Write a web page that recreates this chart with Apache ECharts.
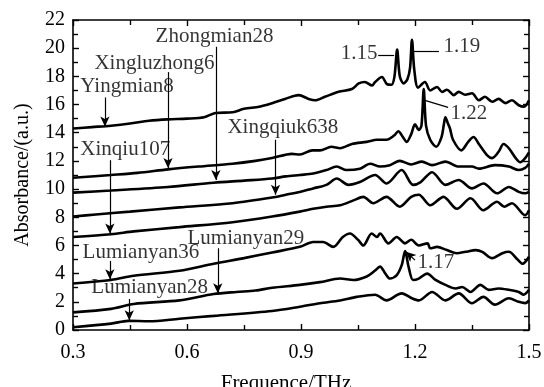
<!DOCTYPE html>
<html><head><meta charset="utf-8">
<script src="https://cdn.jsdelivr.net/npm/echarts@6/dist/echarts.min.js"></script>
<style>html,body{margin:0;padding:0;background:#fff}#c{width:544px;height:387px}</style>
</head><body><div id="c"></div>
<script>
var xTicks = [0.3, 0.6, 0.9, 1.2, 1.5];
var yTicks = [0, 2, 4, 6, 8, 10, 12, 14, 16, 18, 20, 22];

var yingmian8 = [[0.30,14.3],[0.35,14.4],[0.40,14.5],[0.45,14.65],[0.50,14.85],[0.55,14.95],[0.60,15.0],[0.645,15.1],[0.675,15.4],[0.72,15.45],[0.75,15.7],[0.79,15.85],[0.824,16.1],[0.858,16.4],[0.894,16.67],[0.92,16.4],[0.937,16.3],[0.963,16.55],[0.999,16.9],[1.034,17.1],[1.052,17.5],[1.068,17.6],[1.087,17.35],[1.095,17.6],[1.113,17.95],[1.126,17.45],[1.138,17.4],[1.146,18.0],[1.153,19.9],[1.16,18.0],[1.17,17.5],[1.18,17.8],[1.187,18.6],[1.192,20.6],[1.198,18.5],[1.208,17.2],[1.226,17.6],[1.24,17.0],[1.258,17.25],[1.271,16.9],[1.284,17.05],[1.302,16.67],[1.315,16.9],[1.332,16.7],[1.35,16.8],[1.368,16.3],[1.384,16.55],[1.403,16.2],[1.42,16.4],[1.438,16.1],[1.455,16.3],[1.473,15.95],[1.487,15.85],[1.5,16.3]];
var xingluzhong6 = [[0.30,10.8],[0.40,11.0],[0.47,11.15],[0.55,11.4],[0.63,11.6],[0.72,11.8],[0.78,12.0],[0.824,12.2],[0.876,12.5],[0.897,12.45],[0.93,12.75],[0.95,12.75],[0.98,13.0],[1.003,12.9],[1.034,13.2],[1.073,13.35],[1.10,13.5],[1.125,13.5],[1.145,13.8],[1.156,14.1],[1.168,13.7],[1.178,13.35],[1.19,13.9],[1.20,14.6],[1.21,14.2],[1.217,14.5],[1.223,17.1],[1.229,14.5],[1.24,13.5],[1.256,13.0],[1.27,13.7],[1.276,14.6],[1.28,15.1],[1.286,14.7],[1.292,14.3],[1.30,13.5],[1.322,12.75],[1.34,13.35],[1.354,13.7],[1.368,13.2],[1.39,12.4],[1.403,12.2],[1.42,12.65],[1.433,13.2],[1.447,12.9],[1.465,12.2],[1.477,11.9],[1.49,12.2],[1.5,12.6]];
var zhongmian28 = [[0.30,9.75],[0.40,9.9],[0.55,10.15],[0.67,10.45],[0.75,10.6],[0.824,10.75],[0.86,10.9],[0.897,11.0],[0.932,11.1],[0.967,11.35],[0.994,11.6],[1.02,11.35],[1.055,11.45],[1.082,11.8],[1.108,11.6],[1.134,11.7],[1.16,12.0],[1.19,11.75],[1.218,11.95],[1.245,11.7],[1.28,11.95],[1.315,11.6],[1.35,11.6],[1.368,11.45],[1.41,11.7],[1.447,11.6],[1.473,11.35],[1.49,11.5],[1.5,11.8]];
var xingqiuk638 = [[0.30,8.05],[0.36,8.2],[0.45,8.4],[0.58,8.7],[0.72,9.0],[0.824,9.4],[0.86,9.6],[0.897,9.8],[0.932,10.05],[0.967,10.3],[0.994,10.75],[1.025,10.3],[1.055,10.5],[1.095,11.0],[1.125,10.4],[1.165,11.35],[1.195,10.3],[1.215,10.5],[1.245,11.2],[1.28,10.3],[1.315,10.65],[1.35,10.05],[1.38,10.4],[1.416,9.7],[1.447,10.15],[1.473,9.8],[1.49,9.7],[1.5,9.8]];
var xinqiu107 = [[0.30,6.6],[0.40,6.8],[0.46,7.0],[0.58,7.3],[0.72,7.65],[0.824,8.05],[0.897,8.4],[0.932,8.6],[0.967,8.75],[1.003,8.85],[1.038,9.2],[1.064,9.45],[1.09,9.0],[1.125,9.45],[1.16,8.75],[1.19,9.45],[1.21,9.6],[1.24,8.85],[1.275,9.45],[1.31,8.6],[1.346,9.35],[1.38,8.5],[1.416,9.1],[1.435,8.75],[1.455,9.0],[1.49,8.15],[1.5,8.5]];
var lumianyan36 = [[0.30,3.3],[0.40,3.55],[0.46,3.85],[0.58,4.2],[0.67,4.7],[0.75,5.1],[0.824,5.5],[0.897,5.9],[0.932,6.25],[0.958,6.25],[0.985,5.9],[1.01,6.6],[1.029,6.85],[1.05,6.4],[1.064,6.0],[1.086,6.85],[1.10,6.6],[1.108,6.85],[1.13,6.15],[1.152,6.6],[1.174,6.15],[1.19,6.4],[1.21,6.0],[1.233,6.15],[1.24,5.8],[1.258,5.9],[1.284,5.67],[1.31,5.45],[1.333,5.55],[1.36,5.67],[1.377,5.55],[1.403,5.1],[1.43,5.45],[1.447,5.55],[1.47,5.0],[1.483,4.7],[1.5,5.2]];
var lumianyan29 = [[0.30,1.25],[0.40,1.5],[0.46,1.85],[0.58,2.1],[0.67,2.55],[0.73,2.7],[0.78,2.8],[0.824,3.0],[0.897,3.2],[0.95,3.4],[1.003,3.65],[1.038,3.55],[1.073,3.8],[1.094,4.2],[1.108,4.5],[1.122,4.0],[1.134,3.65],[1.152,3.9],[1.165,4.6],[1.174,5.6],[1.183,4.5],[1.195,3.55],[1.21,3.65],[1.232,4.0],[1.254,3.55],[1.28,3.2],[1.307,2.95],[1.324,3.05],[1.346,2.7],[1.372,3.2],[1.394,2.85],[1.42,2.95],[1.447,2.85],[1.473,2.7],[1.486,2.5],[1.5,2.85]];
var lumianyan28 = [[0.30,0.2],[0.40,0.45],[0.445,0.65],[0.50,0.62],[0.58,0.8],[0.67,1.0],[0.824,1.35],[0.897,1.65],[0.95,1.9],[1.003,2.1],[1.047,2.35],[1.095,2.5],[1.125,2.1],[1.165,2.6],[1.192,2.25],[1.21,2.1],[1.245,2.7],[1.28,2.1],[1.315,2.6],[1.35,1.9],[1.38,2.35],[1.41,1.8],[1.447,2.25],[1.473,2.0],[1.49,1.9],[1.5,2.1]];

// annotation texts: [x, y, text]
var labelTexts = [[0.318,17.3,'Yingmian8'],[0.355,18.9,'Xingluzhong6'],[0.516,20.8,'Zhongmian28'],[0.705,14.4,'Xingqiuk638'],[0.318,12.8,'Xinqiu107'],[0.324,5.5,'Lumianyan36'],[0.60,6.5,'Lumianyan29'],[0.347,3.0,'Lumianyan28'],[1.003,19.6,'1.15'],[1.274,20.1,'1.19'],[1.292,15.4,'1.22'],[1.205,4.8,'1.17']];
// arrows: [x1, y1, x2, y2] (head at second point)
var arrows = [[0.384,16.5,0.384,14.45],[0.55,18.3,0.55,11.5],[0.676,20.1,0.676,10.65],[0.833,13.5,0.833,9.6],[0.397,12.05,0.397,6.85],[0.397,4.9,0.397,3.6],[0.681,5.8,0.681,2.6],[0.448,2.2,0.448,0.7],[1.2,4.96,1.176,5.55]];
// plain leader lines: [x1, y1, x2, y2]
var leaders = [[1.103,19.5,1.145,19.5],[1.197,19.75,1.263,19.75],[1.226,16.3,1.287,15.8]];

var FONT = 'Liberation Serif';
var chart = echarts.init(document.getElementById('c'));
function curve(name, d) {
  return {name: name, type: 'line', data: d, showSymbol: false, symbol: 'none', smooth: 0.3,
    lineStyle: {color: '#000', width: 2.6}, z: 3};
}
var mlData = [];
arrows.forEach(function (a) {
  mlData.push([{coord: [a[0], a[1]], symbol: 'none'}, {coord: [a[2], a[3]], symbol: 'arrow', symbolSize: [7, 10]}]);
});
leaders.forEach(function (a) {
  mlData.push([{coord: [a[0], a[1]], symbol: 'none'}, {coord: [a[2], a[3]], symbol: 'none'}]);
});
function xAx(pos, showLabel) {
  return {type: 'value', position: pos, min: 0.3, max: 1.5, interval: 0.3,
    axisLine: {show: true, onZero: false, lineStyle: {color: '#000', width: 1.6}},
    axisTick: {show: true, inside: true, length: 6, lineStyle: {color: '#000', width: 1.4}},
    minorTick: {show: true, splitNumber: 2, length: 5, lineStyle: {color: '#000', width: 1.4}},
    splitLine: {show: false}, minorSplitLine: {show: false},
    axisLabel: {show: showLabel, color: '#000', fontSize: 20, fontFamily: FONT, margin: 13,
      formatter: function (v) { return (Math.round(v * 10) / 10).toFixed(1); }},
    name: showLabel ? 'Frequence/THz' : '', nameLocation: 'middle', nameGap: 43,
    nameTextStyle: {color: '#000', fontSize: 21, fontFamily: FONT, padding: [0, 30, 0, 0]}
  };
}
function yAx(pos, showLabel) {
  return {type: 'value', position: pos, min: 0, max: 22, interval: 2,
    axisLine: {show: true, onZero: false, lineStyle: {color: '#000', width: 1.6}},
    axisTick: {show: true, inside: true, length: 6, lineStyle: {color: '#000', width: 1.4}},
    minorTick: {show: true, splitNumber: 2, length: 5, lineStyle: {color: '#000', width: 1.4}},
    splitLine: {show: false}, minorSplitLine: {show: false},
    axisLabel: {show: showLabel, color: '#000', fontSize: 20, fontFamily: FONT, margin: 8},
    name: showLabel ? 'Absorbance/(a.u.)' : '', nameLocation: 'middle', nameGap: 40,
    nameTextStyle: {color: '#000', fontSize: 20, fontFamily: FONT}
  };
}
chart.setOption({
  animation: false,
  backgroundColor: '#fff',
  grid: {left: 73, right: 15, top: 20, bottom: 57, containLabel: false, outerBoundsMode: 'none'},
  xAxis: [xAx('bottom', true), xAx('top', false)],
  yAxis: [yAx('left', true), yAx('right', false)],
  series: [
    curve('Yingmian8', yingmian8),
    curve('Xingluzhong6', xingluzhong6),
    curve('Zhongmian28', zhongmian28),
    curve('Xingqiuk638', xingqiuk638),
    curve('Xinqiu107', xinqiu107),
    curve('Lumianyan36', lumianyan36),
    curve('Lumianyan29', lumianyan29),
    curve('Lumianyan28', lumianyan28),
    {type: 'scatter', data: labelTexts, symbolSize: 1, itemStyle: {color: 'rgba(0,0,0,0)'}, z: 5,
      label: {show: true, position: 'right', distance: 0, color: '#000', fontSize: 21, fontFamily: FONT,
        formatter: function (p) { return p.value[2]; }},
      markLine: {silent: true, animation: false, label: {show: false},
        lineStyle: {color: '#000', width: 1.2, type: 'solid'}, data: mlData}
    }
  ]
});
</script></body></html>
